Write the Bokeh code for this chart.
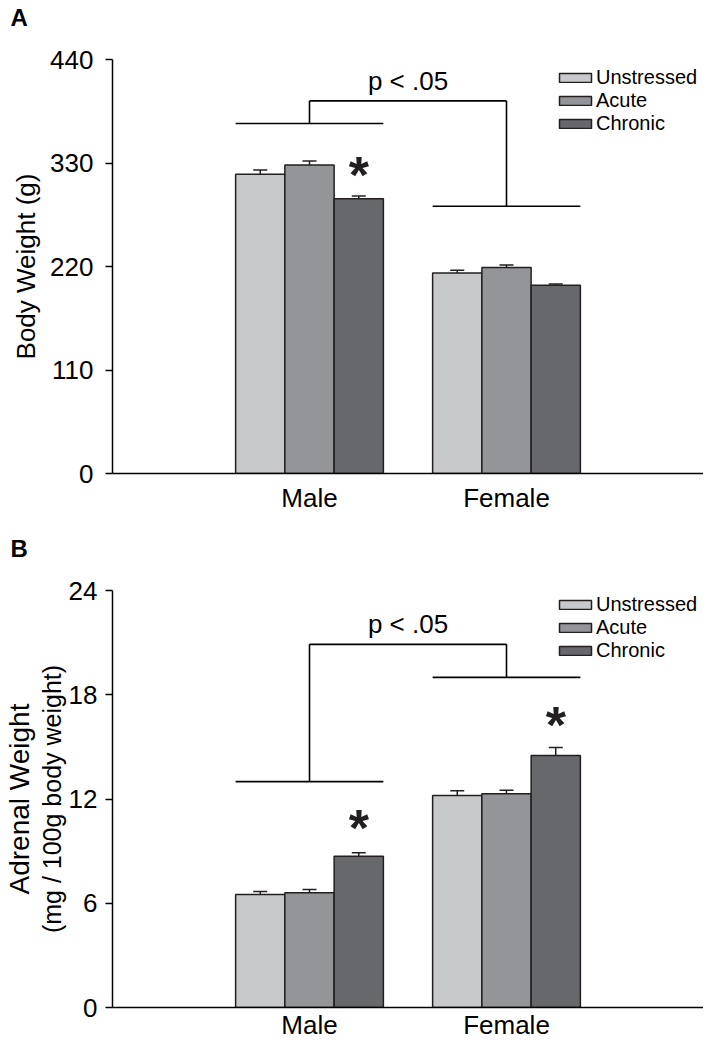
from bokeh.plotting import figure
from bokeh.models import (FactorRange, Range1d, FixedTicker, Whisker, TeeHead,
                          ColumnDataSource, LinearAxis, Title, Legend, LegendItem)
from bokeh.transform import dodge
from bokeh.layouts import column
from bokeh.embed import file_html
from bokeh.resources import INLINE
from bokeh.core.properties import value

# ---------------- data ----------------
categories = ["Male", "Female"]
conditions = ["Unstressed", "Acute", "Chronic"]

body_unstressed = [318, 213]
body_acute = [328, 219]
body_chronic = [292, 200]
body_unstressed_sem = [4.5, 3.0]
body_acute_sem = [4.0, 2.7]
body_chronic_sem = [3.0, 1.5]
body_ticks = [0, 110, 220, 330, 440]
body_star_cats = ["Male"]
body_star_y = [326]
body_bracket = [372, 284, 396]     # male level, female level, top level
body_p_y = [417]

adrenal_unstressed = [6.5, 12.2]
adrenal_acute = [6.6, 12.3]
adrenal_chronic = [8.7, 14.5]
adrenal_unstressed_sem = [0.17, 0.28]
adrenal_acute_sem = [0.19, 0.21]
adrenal_chronic_sem = [0.20, 0.46]
adrenal_ticks = [0, 6, 12, 18, 24]
adrenal_star_cats = ["Male", "Female"]
adrenal_star_y = [10.8, 16.7]
adrenal_bracket = [13.0, 19.0, 20.9]
adrenal_p_y = [22.05]

# ---------------- style ----------------
FONT = "Liberation Sans"
colors = ["#c8c9cb", "#939598", "#67686c"]
offsets = [-0.25, 0.0, 0.25]
BAR_W = 0.25
EDGE = "#231f20"


def make_panel(letter, means, sems, ticks, star_cats, star_y, bracket, p_y,
               height, top_border, xlab_standoff, legend_bottoms):
    p = figure(width=703, height=height,
               x_range=FactorRange(factors=categories, range_padding=0.5,
                                   range_padding_units="absolute", factor_padding=0),
               y_range=Range1d(ticks[0], ticks[-1]),
               output_backend="svg", toolbar_location=None,
               min_border_left=103, min_border_right=0,
               min_border_top=top_border, min_border_bottom=0)
    p.outline_line_color = None
    p.grid.grid_line_color = None
    p.background_fill_color = "white"

    # panel letter: a two-line title keeps the letter near the top of the canvas
    p.title = Title(text=letter + "\n\u00a0", align="left", offset=-102,
                    vertical_align="top", standoff=0, text_font=FONT,
                    text_font_size="24px", text_font_style="bold",
                    text_color="black")

    data = dict(sex=categories)
    for cond, m, s in zip(conditions, means, sems):
        data[cond] = m
        data[cond + "_hi"] = [a + b for a, b in zip(m, s)]
    src = ColumnDataSource(data)

    bars = []
    for cond, col, off in zip(conditions, colors, offsets):
        r = p.vbar(x=dodge("sex", off, range=p.x_range), top=cond, width=BAR_W,
                   source=src, fill_color=col, line_color=EDGE, line_width=1.5)
        bars.append(r)
        w = Whisker(base=dodge("sex", off, range=p.x_range), upper=cond + "_hi",
                    lower=cond, source=src, line_color=EDGE, line_width=1.5,
                    upper_head=TeeHead(size=14, line_color=EDGE, line_width=1.5),
                    lower_head=None, level="overlay")
        p.add_layout(w)

    # significance bracket
    ym, yf, yt = bracket
    seg = ColumnDataSource(dict(
        x0=[("Male", -0.375), ("Female", -0.375), ("Male", 0.0), ("Male", 0.0), ("Female", 0.0)],
        x1=[("Male", 0.375), ("Female", 0.375), ("Male", 0.0), ("Female", 0.0), ("Female", 0.0)],
        y0=[ym, yf, ym, yt, yt],
        y1=[ym, yf, yt, yt, yf]))
    p.segment(x0="x0", y0="y0", x1="x1", y1="y1", source=seg,
              line_color="black", line_width=1.6)
    p.text(x=[("Male", 0.5)], y=p_y, text=["p < .05"], text_align="center",
           text_baseline="alphabetic", text_font=value(FONT),
           text_font_size="26px", text_color="black")

    # asterisks over chronic bars
    p.text(x=[(c, offsets[2]) for c in star_cats], y=star_y,
           text=["*"] * len(star_cats), text_align="center",
           text_baseline="middle", y_offset=8,
           text_font=value(FONT), text_font_size="52px",
           text_font_style="bold", text_color=EDGE)

    # axes
    yax = p.yaxis[0]
    yax.ticker = FixedTicker(ticks=ticks)
    yax.minor_tick_line_color = None
    yax.major_tick_out = 7
    yax.major_tick_in = 0
    yax.major_tick_line_width = 1.5
    yax.axis_line_width = 1.5
    yax.major_label_standoff = 12
    yax.major_label_text_font = FONT
    yax.major_label_text_font_size = "26px"
    yax.major_label_text_color = "black"
    yax.axis_label_text_font = FONT
    yax.axis_label_text_font_style = "normal"
    yax.axis_label_text_color = "black"

    xax = p.xaxis[0]
    xax.major_tick_line_color = None
    xax.major_tick_out = 0
    xax.major_tick_in = 0
    xax.minor_tick_line_color = None
    xax.axis_line_width = 1.5
    xax.major_label_standoff = xlab_standoff
    xax.major_label_text_font = FONT
    xax.major_label_text_font_size = "26px"
    xax.major_label_text_color = "black"

    # one legend per entry so the row pitch can follow the reference
    for cond, r, vb in zip(conditions, bars, legend_bottoms):
        lg = Legend(items=[LegendItem(label=cond, renderers=[r])],
                    location=(443, vb), margin=0, padding=0,
                    border_line_color=None, background_fill_alpha=0,
                    glyph_width=40, glyph_height=11, label_standoff=1,
                    label_height=23, label_text_font=FONT,
                    label_text_font_size="20px", label_text_color="black")
        p.add_layout(lg)
    return p


p1 = make_panel("A", [body_unstressed, body_acute, body_chronic],
                [body_unstressed_sem, body_acute_sem, body_chronic_sem],
                body_ticks, body_star_cats, body_star_y, body_bracket, body_p_y,
                height=515, top_border=59, xlab_standoff=9,
                legend_bottoms=[384, 361, 338])
p1.yaxis[0].axis_label = "Body Weight (g)"
p1.yaxis[0].axis_label_text_font_size = "26px"
p1.yaxis[0].axis_label_standoff = 6

p2 = make_panel("B", [adrenal_unstressed, adrenal_acute, adrenal_chronic],
                [adrenal_unstressed_sem, adrenal_acute_sem, adrenal_chronic_sem],
                adrenal_ticks, adrenal_star_cats, adrenal_star_y, adrenal_bracket,
                adrenal_p_y, height=527, top_border=75, xlab_standoff=2,
                legend_bottoms=[391, 368, 345])
p2.yaxis[0].axis_label = "(mg / 100g body weight)"
p2.yaxis[0].axis_label_text_font_size = "25px"
p2.yaxis[0].axis_label_standoff = 0
p2.yaxis[0].major_label_standoff = 8

outer = LinearAxis(axis_label="Adrenal Weight",
                   ticker=FixedTicker(ticks=[]), axis_line_color=None,
                   major_tick_line_color=None, minor_tick_line_color=None,
                   major_tick_out=0, major_tick_in=0,
                   major_label_text_font_size="0px", axis_label_standoff=0,
                   axis_label_text_font=FONT, axis_label_text_font_size="28px",
                   axis_label_text_font_style="normal", axis_label_text_color="black")
p2.add_layout(outer, "left")

layout = column(p1, p2, spacing=0)
open("out.html", "w").write(file_html(layout, INLINE))
